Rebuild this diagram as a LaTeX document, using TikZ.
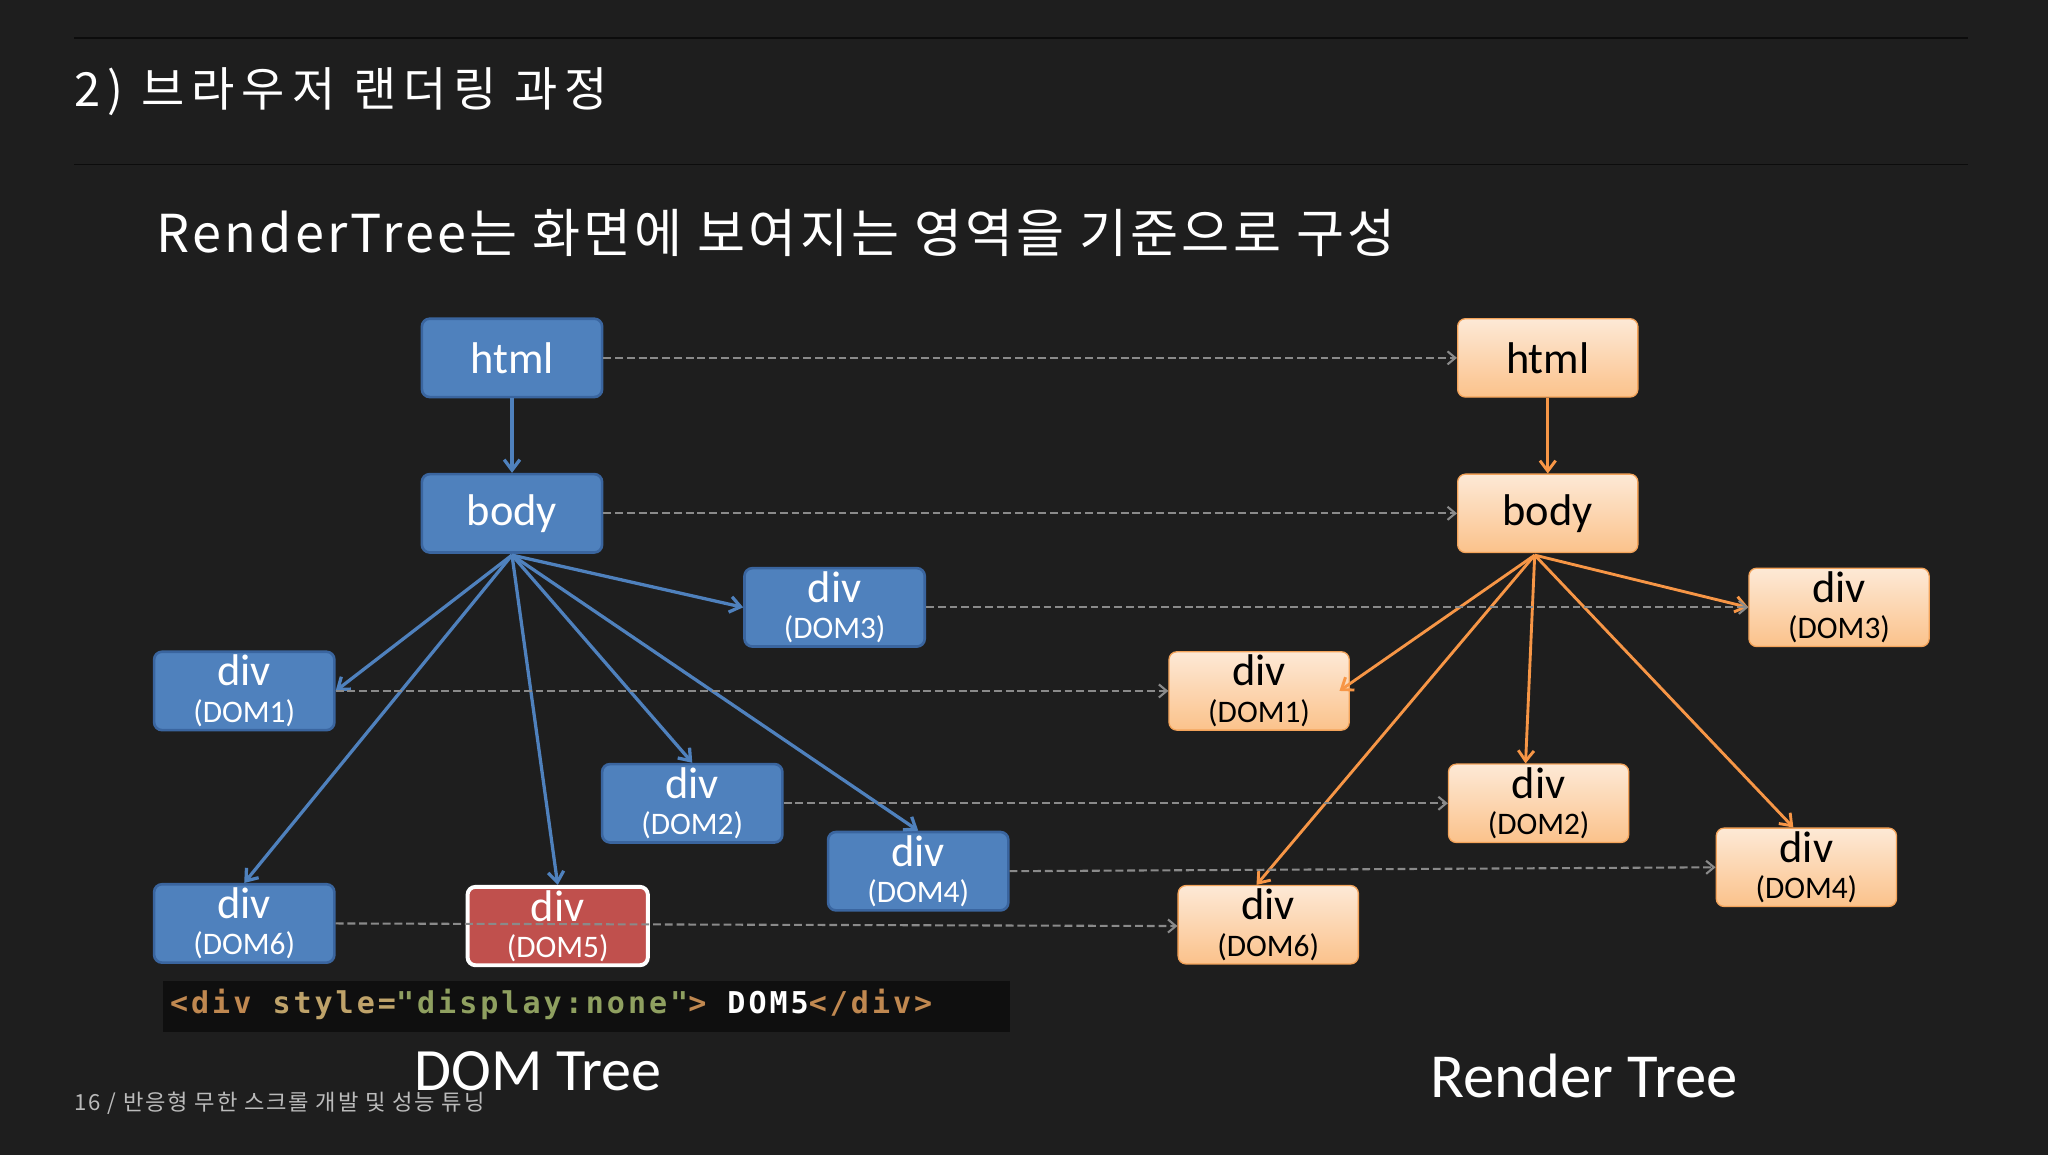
\documentclass[tikz,border=0pt]{standalone}
\usepackage{fontspec}
\setmainfont{Carlito}
\newfontfamily\krt[LetterSpace=15]{Noto Sans CJK KR}
\newfontfamily\krs[LetterSpace=6]{Noto Sans CJK KR}
\newfontfamily\krf[LetterSpace=8]{Noto Sans CJK KR}
\newfontfamily\monof[LetterSpace=10]{DejaVu Sans Mono}
\usetikzlibrary{arrows.meta,shadings}
\definecolor{bg}{HTML}{1E1E1E}
\definecolor{bfill}{HTML}{4F81BD}
\definecolor{bdraw}{HTML}{3A659F}
\definecolor{odraw}{HTML}{F3A35A}
\definecolor{oarrow}{HTML}{F79646}
\definecolor{dash}{HTML}{8A8A8A}
\definecolor{redf}{HTML}{C0504D}
\definecolor{otop}{HTML}{FDE9D6}
\definecolor{obot}{HTML}{FBC28B}
\tikzset{
 bbox/.style={draw=bdraw,line width=2pt,fill=bfill,rounded corners=6pt,minimum width=138pt,minimum height=60pt,text=white,align=center,inner sep=0pt,font=\fontsize{24}{28}\selectfont},
 obox/.style={draw=odraw,line width=1pt,top color=otop,bottom color=obot,rounded corners=6pt,minimum width=138pt,minimum height=60pt,text=black,align=center,inner sep=0pt,font=\fontsize{24}{28}\selectfont},
 big/.style={font=\fontsize{34}{34}\selectfont},
 barr/.style={draw=bfill,line width=2.5pt,-{Straight Barb[length=8pt,width=12pt]}},
 oarr/.style={draw=oarrow,line width=2.2pt,-{Straight Barb[length=8pt,width=12pt]}},
 darr/.style={draw=dash,line width=1.6pt,dash pattern=on 6pt off 3pt,-{Straight Barb[length=6pt,width=10pt]}},
}
\newcommand{\dv}[1]{{\fontsize{34}{30}\selectfont div}\\(#1)}
\begin{document}
\begin{tikzpicture}[x=1pt,y=-1pt]
\fill[bg] (0,0) rectangle (1568,884);
\useasboundingbox (0,0) rectangle (1568,884);
\draw[color=black!60!bg,line width=1pt] (57,29) -- (1507,29) (57,126) -- (1507,126);
\node[anchor=west,text=white,inner sep=0] (t) at (57,70) {\krt\fontsize{36}{36}\selectfont 2) 브라우저 랜더링 과정};
\node[anchor=west,text=white,inner sep=0] (st) at (120,178) {\krs\fontsize{40}{40}\selectfont RenderTree는 화면에 보여지는 영역을 기준으로 구성};
% blue
\node[bbox,big] (bh) at (392,274) {html};
\node[bbox,big] (bb) at (392,393) {body};
\node[bbox] (b3) at (639,465) {\dv{DOM3}};
\node[bbox] (b1) at (187,529) {\dv{DOM1}};
\node[bbox] (b2) at (530,615) {\dv{DOM2}};
\node[bbox] (b4) at (703,667) {\dv{DOM4}};
\node[bbox] (b6) at (187,707) {\dv{DOM6}};
\node[bbox,draw=white,line width=3pt,fill=redf] (b5) at (427,709) {\dv{DOM5}};
% orange
\node[obox,big] (oh) at (1185,274) {html};
\node[obox,big] (ob) at (1185,393) {body};
\node[obox] (o3) at (1408,465) {\dv{DOM3}};
\node[obox] (o1) at (964,529) {\dv{DOM1}};
\node[obox] (o2) at (1178,615) {\dv{DOM2}};
\node[obox] (o4) at (1383,664) {\dv{DOM4}};
\node[obox] (o6) at (971,708) {\dv{DOM6}};
\coordinate (bbs) at (392,425);
\coordinate (obs) at (1175,425);
\draw[barr] (bh) -- (bb);
\draw[barr] (bbs) -- (b1.east);
\draw[barr] (bbs) -- (b6.north);
\draw[barr] (bbs) -- (b5.north);
\draw[barr] (bbs) -- (b2.north);
\draw[barr] (bbs) -- (b4.north);
\draw[barr] (bbs) -- (b3.west);
\draw[oarr] (oh) -- (ob);
\draw[oarr] (obs) -- ([xshift=-8pt]o1.east);
\draw[oarr] (obs) -- ([xshift=-9pt]o6.north);
\draw[oarr] (obs) -- ([xshift=-10pt]o2.north);
\draw[oarr] (obs) -- ([xshift=-10pt]o4.north);
\draw[oarr] (obs) -- (o3.west);
\draw[darr] (bh) -- (oh);
\draw[darr] (bb) -- (ob);
\draw[darr] (b3) -- (o3);
\draw[darr] (b1) -- (o1);
\draw[darr] (b2) -- (o2);
\draw[darr] (b4.east) -- (o4.west);
\draw[darr] (b6.east) -- ([yshift=-1pt]o6.west);
\fill[black!50!bg] (125,751) rectangle (773,790);
\node[anchor=west,inner sep=0] (code) at (130,769) {\monof\bfseries\fontsize{23}{23}\selectfont\textcolor[HTML]{C08850}{<div} \textcolor[HTML]{BFA36A}{style=}\textcolor[HTML]{8FA060}{"display:none"}\textcolor[HTML]{C08850}{>} \textcolor{white}{DOM5}\textcolor[HTML]{C08850}{</div>}};
\node[text=white,inner sep=0] (dt) at (412,820) {\fontsize{46}{46}\selectfont DOM Tree};
\node[text=white,inner sep=0] (rt) at (1213,824) {\fontsize{48}{48}\selectfont Render Tree};
\node[anchor=west,text=white!70!bg,inner sep=0] (ft) at (57,845) {\krf\fontsize{17}{17}\selectfont 16 / 반응형 무한 스크롤 개발 및 성능 튜닝};
\end{tikzpicture}
\end{document}
